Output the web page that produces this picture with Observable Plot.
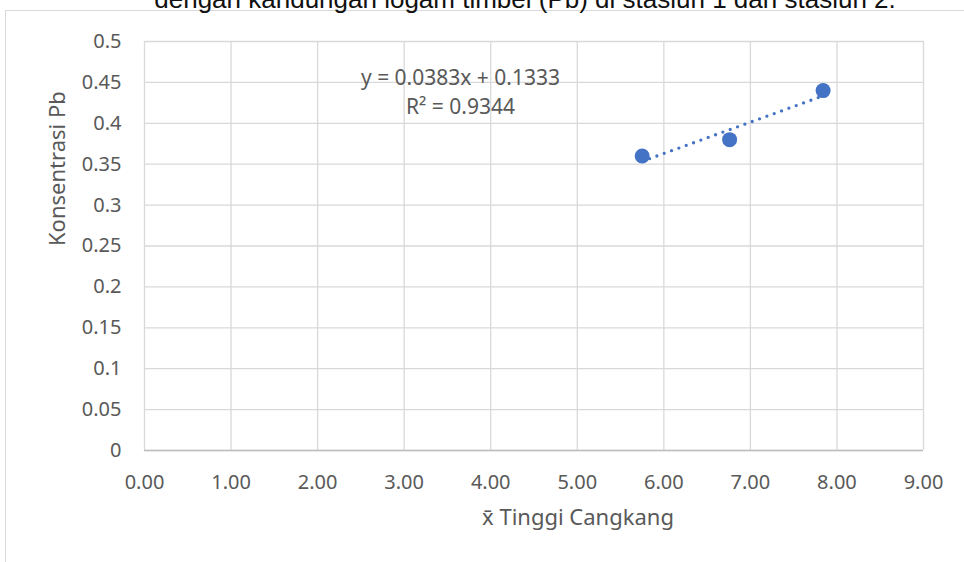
<!DOCTYPE html>
<html>
<head>
<meta charset="utf-8">
<script src="https://cdn.jsdelivr.net/npm/d3@7"></script>
<script src="https://cdn.jsdelivr.net/npm/@observablehq/plot@0.6"></script>
<style>
  html, body { margin: 0; padding: 0; background: #ffffff; }
  #wrap { position: relative; width: 964px; height: 562px; overflow: hidden; }
  #frame { position: absolute; left: 5px; top: 10px; width: 2000px; height: 2000px;
           border-left: 1.5px solid #d9d9d9; border-top: 1.5px solid #d9d9d9; }
  #chart { position: absolute; left: 0; top: 0; }
</style>
</head>
<body>
<div id="wrap"><div id="frame"></div><div id="chart"></div></div>
<script>
// ---- data ----
const tinggiCangkang = [5.75, 6.76, 7.84];      // x̄ Tinggi Cangkang
const konsentrasiPb = [0.36, 0.38, 0.44];       // Konsentrasi Pb
const trendSlope = 0.0383;
const trendIntercept = 0.1333;
const trendR2 = 0.9344;
const xTicks = [0, 1, 2, 3, 4, 5, 6, 7, 8, 9];
const yTicks = [0, 0.05, 0.1, 0.15, 0.2, 0.25, 0.3, 0.35, 0.4, 0.45, 0.5];
const titleText = "dengan kandungan logam timbel (Pb) di stasiun 1 dan stasiun 2.";
const xLabel = "x\u0304 Tinggi Cangkang";
const yLabel = "Konsentrasi Pb";

const points = tinggiCangkang.map((x, i) => ({x, y: konsentrasiPb[i]}));
const trend = d3.extent(tinggiCangkang).map(x => ({x, y: trendSlope * x + trendIntercept}));
const eqLine1 = `y = ${trendSlope}x + ${trendIntercept}`;
const eqLine2 = `R² = ${trendR2}`;

const fmtX = d3.format(".2f");
const fmtY = d => String(+d.toFixed(2));
const gray = "#595959";

const chart = Plot.plot({
  width: 964,
  height: 562,
  marginLeft: 144,
  marginRight: 41,
  marginTop: 41,
  marginBottom: 112,
  style: {fontFamily: "'Noto Sans', sans-serif", fontSize: "20px", color: gray, background: "transparent", overflow: "visible"},
  x: {domain: [0, 9]},
  y: {domain: [0, 0.5]},
  marks: [
    Plot.gridX(xTicks, {stroke: "#d9d9d9", strokeOpacity: 1, strokeWidth: 1.3}),
    Plot.gridY(yTicks, {stroke: "#d9d9d9", strokeOpacity: 1, strokeWidth: 1.3}),
    Plot.ruleY([0], {stroke: "#bfbfbf", strokeWidth: 1.6}),
    Plot.axisX(xTicks, {tickSize: 0, tickPadding: 24, tickFormat: fmtX, fill: gray, fontSize: 20, label: null}),
    Plot.axisY(yTicks, {tickSize: 0, tickPadding: 23, tickFormat: fmtY, fill: gray, fontSize: 20, label: null}),
    Plot.line(trend, {x: "x", y: "y", stroke: "#4472C4", strokeWidth: 3.3, strokeDasharray: "0 7.8", strokeLinecap: "round"}),
    Plot.dot(points, {x: "x", y: "y", r: 7.5, fill: "#4472C4", stroke: "none"}),
    Plot.text([eqLine1], {frameAnchor: "top-left", lineAnchor: "middle", dx: 316, dy: 37, textAnchor: "middle", fontSize: 21, fill: gray}),
    Plot.text([eqLine2], {frameAnchor: "top-left", lineAnchor: "middle", dx: 316, dy: 66, textAnchor: "middle", fontSize: 21, fill: gray}),
    Plot.text([yLabel], {frameAnchor: "left", lineAnchor: "middle", rotate: -90, dx: -87, fontSize: 22, fill: gray}),
    Plot.text([xLabel], {frameAnchor: "bottom", lineAnchor: "middle", dx: 44, dy: 67, fontSize: 22, fill: gray}),
    Plot.text([titleText], {frameAnchor: "top", lineAnchor: "middle", dx: -9, dy: -42.3, fontSize: 26, fill: "#111111", fontFamily: "'Liberation Sans', Arial, sans-serif"})
  ]
});
document.getElementById("chart").appendChild(chart);
</script>
</body>
</html>
